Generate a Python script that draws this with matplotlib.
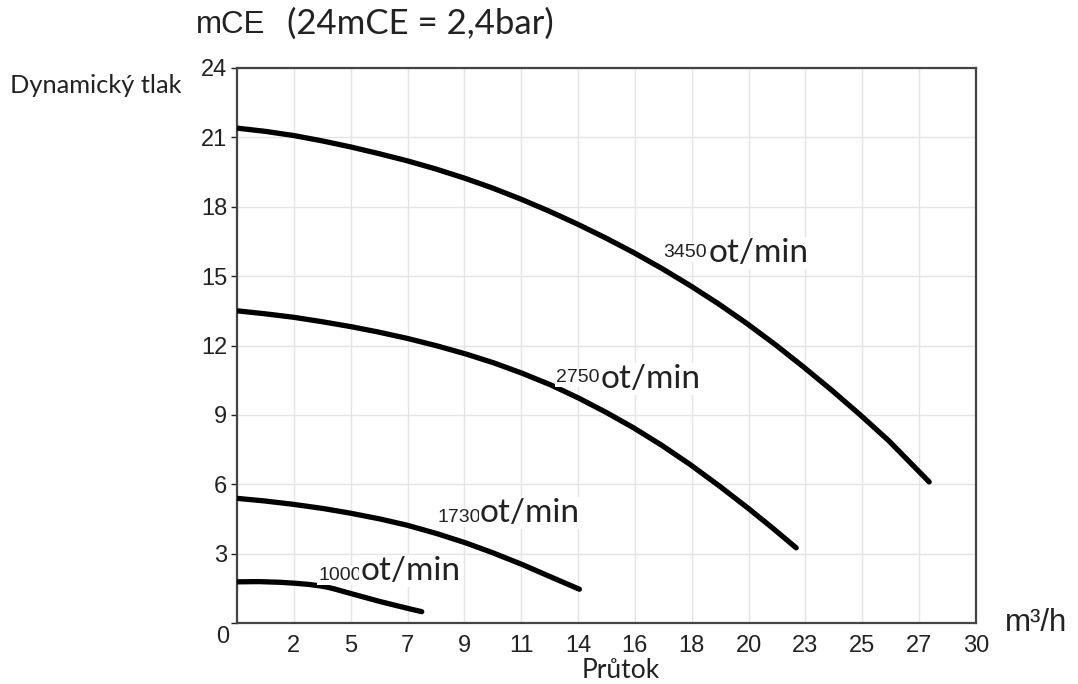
import numpy as np
import matplotlib
matplotlib.use("Agg")
import matplotlib.pyplot as plt

# ---- data ----
x_3450 = [0, 1.15, 2.3, 3.45, 4.6, 5.75, 6.9, 8.05, 9.2, 10.35, 11.5, 12.65, 13.8, 14.95,
          16.1, 17.25, 18.4, 19.55, 20.7, 21.85, 23.0, 24.15, 25.3, 26.45, 28.1]
y_3450 = [21.4, 21.26, 21.08, 20.85, 20.59, 20.30, 19.99, 19.64, 19.25, 18.82, 18.34, 17.82, 17.26, 16.66,
          16.02, 15.33, 14.59, 13.80, 12.95, 12.04, 11.07, 10.06, 9.00, 7.89, 6.1]

x_2750 = [0, 1.15, 2.3, 3.45, 4.6, 5.75, 6.9, 8.1, 9.3, 10.45, 11.6, 12.75, 13.9, 15.0, 16.1,
          17.25, 18.4, 19.6, 20.8, 21.75, 22.7]
y_2750 = [13.5, 13.37, 13.22, 13.03, 12.82, 12.58, 12.31, 11.99, 11.63, 11.24, 10.79, 10.29, 9.71, 9.1, 8.44,
          7.68, 6.85, 5.91, 4.92, 4.1, 3.25]

x_1730 = [0, 1.1, 2.3, 3.5, 4.6, 5.8, 6.9, 8.1, 9.3, 10.4, 11.6, 12.7, 13.9]
y_1730 = [5.39, 5.28, 5.13, 4.95, 4.75, 4.5, 4.23, 3.87, 3.46, 3.03, 2.52, 2.01, 1.46]

x_1000 = [0, 0.9, 1.75, 2.35, 2.9, 3.4, 3.7, 4.0, 4.6, 5.8, 6.9, 7.5]
y_1000 = [1.78, 1.79, 1.76, 1.72, 1.67, 1.6, 1.54, 1.46, 1.28, 0.93, 0.64, 0.49]

speeds = ["3450", "2750", "1730", "1000"]
x_tick_labels = ["0", "2", "5", "7", "9", "11", "14", "16", "18", "20", "23", "25", "27", "30"]
y_ticks = [0, 3, 6, 9, 12, 15, 18, 21, 24]

SANS = "Liberation Sans"
CAL = "Lato"
TXT = "#222222"

fig = plt.figure(figsize=(10.78, 6.84), dpi=100)
ax = fig.add_axes([237/1078, 1-623/684, (976-237)/1078, (623-68)/684])

curves = [(x_3450, y_3450), (x_2750, y_2750), (x_1730, y_1730), (x_1000, y_1000)]
for xs, ys in curves:
    ax.plot(xs, ys, color="black", lw=3.8, solid_capstyle="round", solid_joinstyle="round", zorder=3)

ax.set_xlim(0, 30)
ax.set_ylim(0, 24)
xt = np.linspace(0, 30, len(x_tick_labels))
ax.set_xticks(xt)
ax.set_xticklabels([""] + x_tick_labels[1:], fontfamily=SANS, fontsize=17)
ax.set_yticks(y_ticks)
ax.set_yticklabels([""] + [str(v) for v in y_ticks[1:]], fontfamily=SANS, fontsize=17)
ax.tick_params(axis="x", length=0, pad=9, colors=TXT)
ax.tick_params(axis="y", length=4, width=1, pad=3, colors=TXT)
ax.grid(True, color="#e4e4e4", lw=1.0, zorder=0)
for s in ax.spines.values():
    s.set_color("#444444")
    s.set_linewidth(1.6)

# corner zero
ax.annotate("0", xy=(0, 0), xycoords="axes fraction", xytext=(-14, -14), textcoords="offset pixels",
            ha="center", va="center", fontsize=17, fontfamily=SANS, color=TXT)

# curve labels: digits anchor, "ot/min" anchor (data coords)
label_pos = {
    "3450": ((17.29, 15.83), (19.15, 15.61)),
    "2750": ((12.95, 10.42), (14.75, 10.16)),
    "1730": ((8.12, 4.37), (9.85, 4.37)),
    "1000": ((3.29, 1.86), (5.0, 1.86)),
}
for sp in speeds:
    (dx, dy), (tx, ty) = label_pos[sp]
    ax.text(dx, dy, sp, fontfamily=SANS, fontsize=14, ha="left", va="baseline", color=TXT,
            zorder=4, bbox=dict(facecolor="white", edgecolor="none", pad=0.5))
    ax.text(tx, ty, "ot/min", fontfamily=CAL, fontsize=24, ha="left", va="baseline", color=TXT,
            zorder=4, bbox=dict(facecolor="white", edgecolor="none", pad=0.5))

# titles
fig.text(196/1078, 1-33/684, "mCE", fontfamily=SANS, fontsize=22.5, ha="left", va="baseline", color=TXT)
fig.text(287/1078, 1-34/684, "(24mCE = 2,4bar)", fontfamily=CAL, fontsize=25, ha="left", va="baseline", color=TXT)
fig.text(10/1078, 1-93/684, "Dynamický tlak", fontfamily=CAL, fontsize=18.3, ha="left", va="baseline", color=TXT)
fig.text(621/1078, 1-678/684, "Průtok", fontfamily=CAL, fontsize=19, ha="center", va="baseline", color=TXT)
fig.text(1005/1078, 1-631/684, "m³/h", fontfamily=SANS, fontsize=22.5, ha="left", va="baseline", color=TXT)

fig.savefig("out.png", dpi=100, facecolor="white")
